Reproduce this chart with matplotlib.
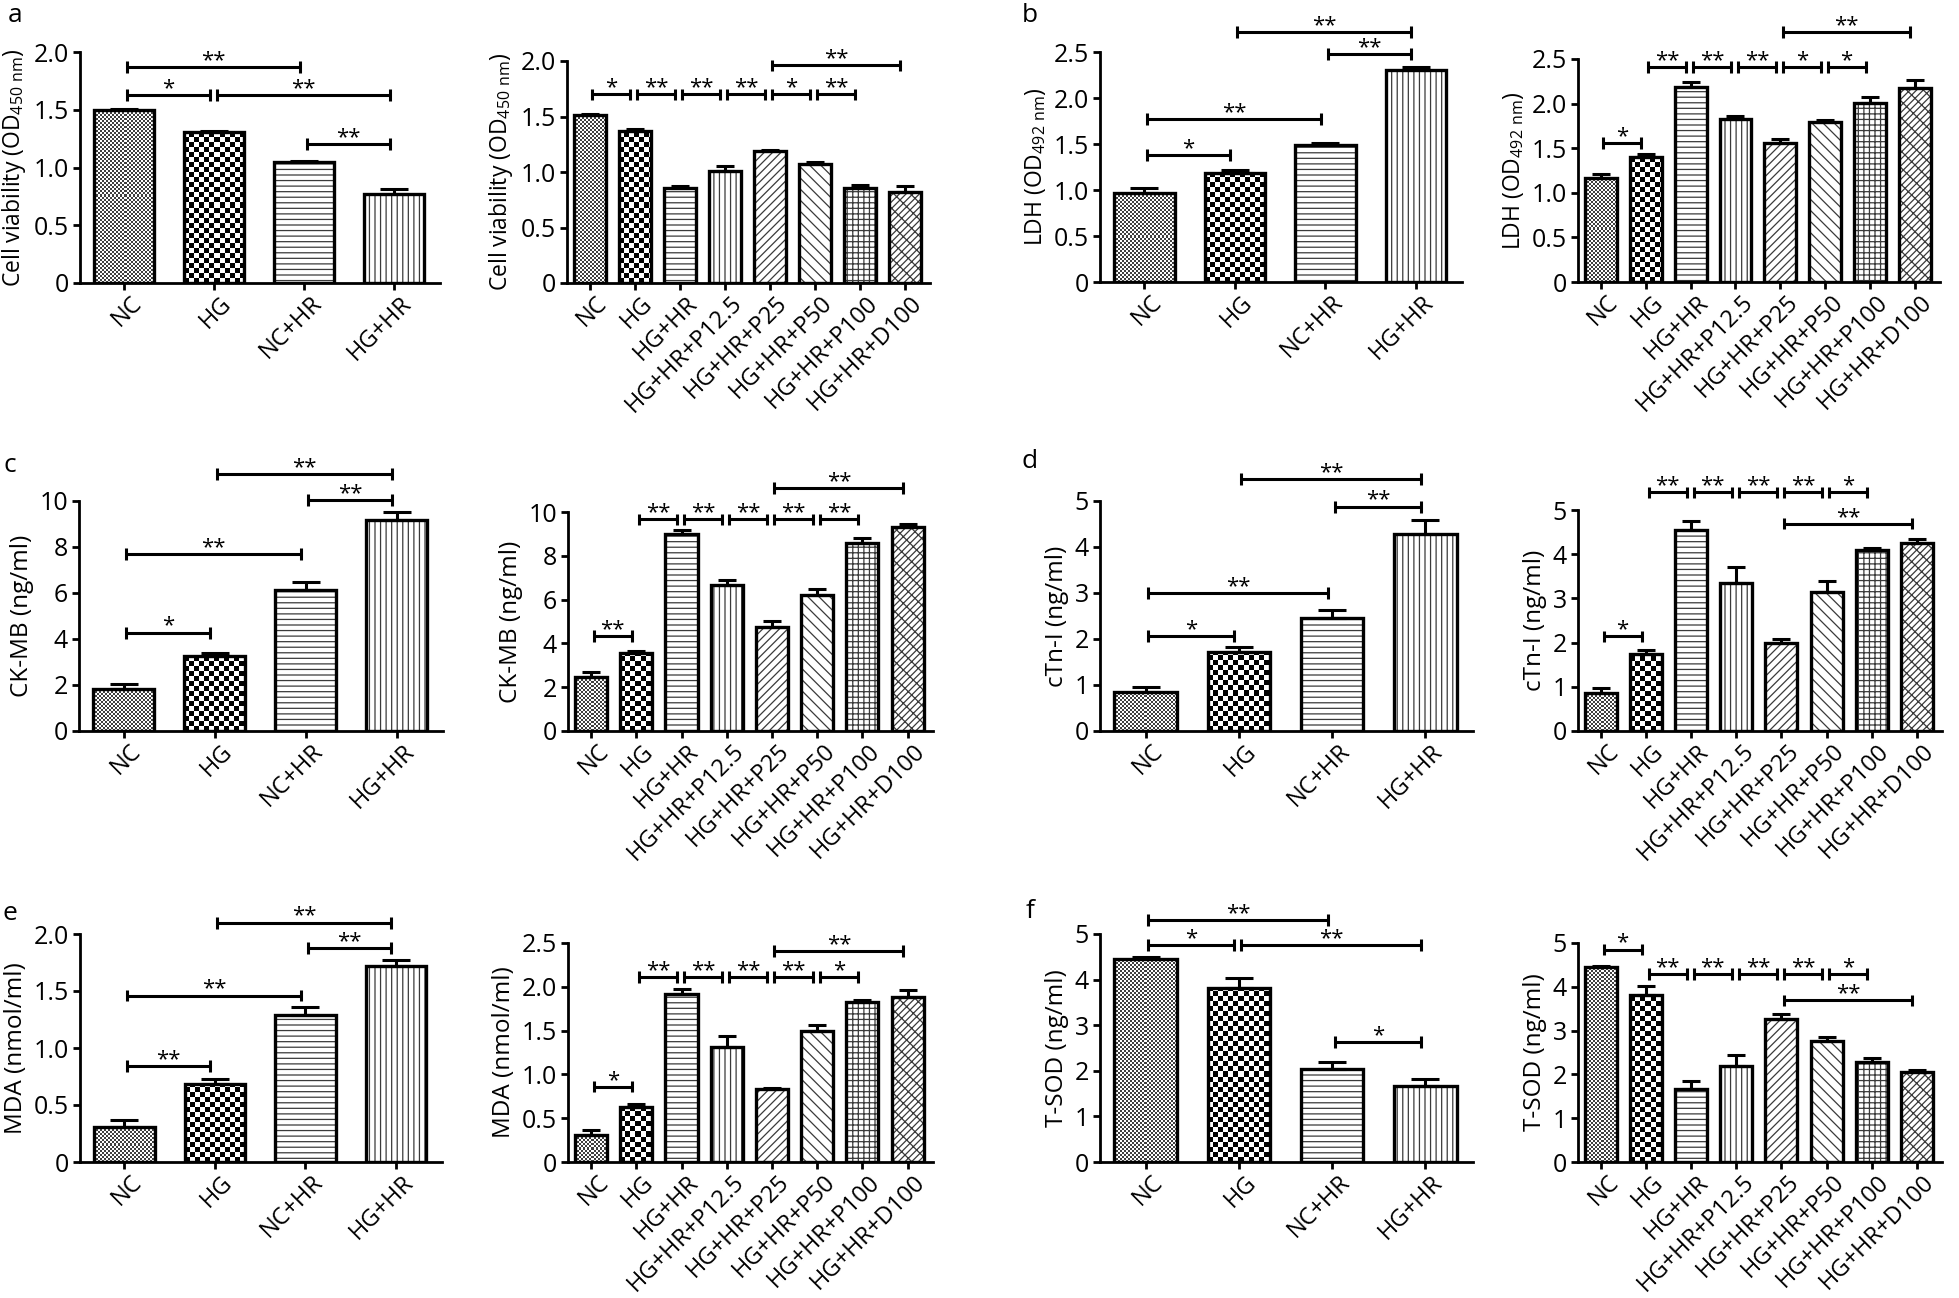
import numpy as np
import matplotlib
matplotlib.use('Agg')
import matplotlib.pyplot as plt
import matplotlib.transforms as mtransforms

plt.rcParams['font.family'] = ['Open Sans', 'DejaVu Sans']
plt.rcParams['hatch.linewidth'] = 0.9

# ---------------- data ----------------
groups4 = ['NC', 'HG', 'NC+HR', 'HG+HR']
groups8 = ['NC', 'HG', 'HG+HR', 'HG+HR+P12.5', 'HG+HR+P25',
           'HG+HR+P50', 'HG+HR+P100', 'HG+HR+D100']

via4 = [1.50, 1.31, 1.05, 0.77]
via4_err = [0.01, 0.01, 0.01, 0.04]
via4_sig = [(0, 2, 1.87, '**'), (0, 1, 1.63, '*'), (1, 3, 1.63, '**'), (2, 3, 1.20, '**')]
via8 = [1.51, 1.37, 0.86, 1.01, 1.19, 1.07, 0.86, 0.82]
via8_err = [0.01, 0.02, 0.01, 0.04, 0.01, 0.02, 0.02, 0.05]
via8_sig = [(0, 1, 1.70, '*'), (1, 2, 1.70, '**'), (2, 3, 1.70, '**'), (3, 4, 1.70, '**'),
            (4, 5, 1.70, '*'), (5, 6, 1.70, '**'), (4, 7, 1.96, '**')]

ldh4 = [0.97, 1.18, 1.49, 2.30]
ldh4_err = [0.05, 0.04, 0.02, 0.04]
ldh4_sig = [(0, 1, 1.38, '*'), (0, 2, 1.77, '**'), (2, 3, 2.48, '**'), (1, 3, 2.72, '**')]
ldh8 = [1.17, 1.40, 2.19, 1.83, 1.56, 1.79, 2.01, 2.18]
ldh8_err = [0.04, 0.03, 0.05, 0.03, 0.04, 0.03, 0.06, 0.08]
ldh8_sig = [(0, 1, 1.56, '*'), (1, 2, 2.41, '**'), (2, 3, 2.41, '**'), (3, 4, 2.41, '**'),
            (4, 5, 2.41, '*'), (5, 6, 2.41, '*'), (4, 7, 2.80, '**')]

ckmb4 = [1.81, 3.26, 6.13, 9.17]
ckmb4_err = [0.22, 0.15, 0.33, 0.37]
ckmb4_sig = [(0, 1, 4.28, '*'), (0, 2, 7.68, '**'), (2, 3, 10.04, '**'), (1, 3, 11.16, '**')]
ckmb8 = [2.45, 3.54, 8.98, 6.66, 4.73, 6.20, 8.59, 9.32]
ckmb8_err = [0.26, 0.12, 0.18, 0.22, 0.29, 0.27, 0.22, 0.12]
ckmb8_sig = [(0, 1, 4.33, '**'), (1, 2, 9.67, '**'), (2, 3, 9.67, '**'), (3, 4, 9.67, '**'),
             (4, 5, 9.67, '**'), (5, 6, 9.67, '**'), (4, 7, 11.09, '**')]

ctn4 = [0.84, 1.72, 2.46, 4.29]
ctn4_err = [0.11, 0.11, 0.16, 0.30]
ctn4_sig = [(0, 1, 2.07, '*'), (0, 2, 2.99, '**'), (2, 3, 4.88, '**'), (1, 3, 5.48, '**')]
ctn8 = [0.85, 1.74, 4.55, 3.34, 1.99, 3.15, 4.09, 4.26]
ctn8_err = [0.12, 0.10, 0.20, 0.37, 0.09, 0.25, 0.06, 0.09]
ctn8_sig = [(0, 1, 2.14, '*'), (1, 2, 5.40, '**'), (2, 3, 5.40, '**'), (3, 4, 5.40, '**'),
            (4, 5, 5.40, '**'), (5, 6, 5.40, '*'), (4, 7, 4.69, '**')]

mda4 = [0.31, 0.68, 1.29, 1.72]
mda4_err = [0.06, 0.05, 0.07, 0.05]
mda4_sig = [(0, 1, 0.84, '**'), (0, 2, 1.46, '**'), (2, 3, 1.88, '**'), (1, 3, 2.10, '**')]
mda8 = [0.31, 0.63, 1.92, 1.31, 0.83, 1.50, 1.83, 1.88]
mda8_err = [0.06, 0.03, 0.06, 0.13, 0.02, 0.06, 0.02, 0.08]
mda8_sig = [(0, 1, 0.86, '*'), (1, 2, 2.11, '**'), (2, 3, 2.11, '**'), (3, 4, 2.11, '**'),
            (4, 5, 2.11, '**'), (5, 6, 2.11, '*'), (4, 7, 2.41, '**')]

sod4 = [4.45, 3.82, 2.03, 1.66]
sod4_err = [0.05, 0.21, 0.17, 0.17]
sod4_sig = [(0, 2, 5.30, '**'), (0, 1, 4.76, '*'), (1, 3, 4.76, '**'), (2, 3, 2.63, '*')]
sod8 = [4.45, 3.82, 1.66, 2.19, 3.27, 2.77, 2.28, 2.06]
sod8_err = [0.03, 0.19, 0.18, 0.26, 0.12, 0.08, 0.10, 0.05]
sod8_sig = [(0, 1, 4.85, '*'), (1, 2, 4.29, '**'), (2, 3, 4.29, '**'), (3, 4, 4.29, '**'),
            (4, 5, 4.29, '**'), (5, 6, 4.29, '*'), (4, 7, 3.69, '**')]

od450 = 'Cell viability (OD$_{\\mathregular{450\\ nm}}$)'
od492 = 'LDH (OD$_{\\mathregular{492\\ nm}}$)'

pat4 = ['fine', 'checker', '---', '|||']
pat8 = ['fine', 'checker', '---', '|||', '////', '\\\\\\', '+++', '/////\\\\']

W, H = 1959, 1298
fig = plt.figure(figsize=(W / 100, H / 100), dpi=100)


def make_axes(x0, x1, ytop, yzero):
    return fig.add_axes([x0 / W, 1 - yzero / H, (x1 - x0) / W, (yzero - ytop) / H])


def checker(ax, xc, h, w, cell, dark):
    pos = ax.get_position()
    xr = ax.get_xlim()
    yr = ax.get_ylim()
    nx = max(1, int(round(w / (xr[1] - xr[0]) * pos.width * W)))
    ny = max(1, int(round(h / (yr[1] - yr[0]) * pos.height * H)))
    ii, jj = np.indices((ny, nx))
    img = ((ii // cell + jj // cell) % 2).astype(float)
    ax.imshow(img, cmap='gray', vmin=0, vmax=1, extent=(xc - w / 2, xc + w / 2, 0, h),
              origin='lower', interpolation='nearest', aspect='auto', zorder=1,
              alpha=1.0 if dark else 0.75)


def panel(ax, labels, vals, errs, sigs, ymax, step, ylabel, ylabsize, fmt):
    n = len(vals)
    x = np.arange(n)
    if n == 4:
        width, xlim, cap, pats = 0.67, (-0.49, 3.51), 10, pat4
    else:
        width, xlim, cap, pats = 0.71, (-0.51, 7.56), 6.5, pat8
    ax.set_xlim(*xlim)
    ax.set_ylim(0, ymax)
    for i in range(n):
        p = pats[i]
        if p == 'fine':
            checker(ax, x[i], vals[i], width, 2, False)
        elif p == 'checker':
            checker(ax, x[i], vals[i], width, 5, True)
        else:
            ax.bar(x[i], vals[i], width, color='white', edgecolor='#3a3a3a',
                   linewidth=0, hatch=p, zorder=1)
    ax.bar(x, vals, width, fill=False, edgecolor='black', linewidth=2.4, zorder=3)
    ax.errorbar(x, vals, yerr=[np.zeros(n), errs], fmt='none', ecolor='black',
                elinewidth=2.2, capsize=cap, capthick=2.2, zorder=4)
    ax.set_xlim(*xlim)
    ax.set_ylim(0, ymax)

    # pixel size of one category unit, for small gaps between adjacent brackets
    upx = ax.get_position().width * W / (xlim[1] - xlim[0])
    c = 0.026 * ymax
    for i, j, y, s in sigs:
        x1, x2 = i + 2.5 / upx, j - 4.5 / upx
        ax.plot([x1, x2], [y, y], color='black', lw=2.2, clip_on=False,
                solid_capstyle='butt', zorder=5)
        for xx in (x1, x2):
            ax.plot([xx, xx], [y - c, y + c], color='black', lw=2.2, clip_on=False,
                    solid_capstyle='butt', zorder=5)
        ax.text((x1 + x2) / 2, y + 0.004 * ymax, s, ha='center', va='baseline',
                fontsize=16, clip_on=False)

    for sp in ('top', 'right'):
        ax.spines[sp].set_visible(False)
    for sp in ('left', 'bottom'):
        ax.spines[sp].set_linewidth(2.0)
    ticks = np.arange(0, ymax + 1e-9, step)
    ax.set_yticks(ticks)
    ax.set_yticklabels(['0'] + [fmt.format(t) for t in ticks[1:]])
    ax.tick_params(axis='y', direction='out', length=5, width=2, labelsize=18, pad=3)
    ax.tick_params(axis='x', direction='out', length=5, width=2, labelsize=17, pad=1)
    ax.set_xticks(x)
    ax.set_xticklabels(labels, rotation=45, ha='right', va='top',
                       rotation_mode='anchor', fontsize=17)
    off = mtransforms.ScaledTranslation(4 / 72, 0, fig.dpi_scale_trans)
    for lab in ax.get_xticklabels():
        lab.set_transform(lab.get_transform() + off)
    ax.set_ylabel(ylabel, fontsize=ylabsize, labelpad=4)


# row a / b
panel(make_axes(80, 440, 52, 283), groups4, via4, via4_err, via4_sig, 2.0, 0.5, od450, 16.5, '{:.1f}')
panel(make_axes(567, 930, 61, 283), groups8, via8, via8_err, via8_sig, 2.0, 0.5, od450, 16.5, '{:.1f}')
panel(make_axes(1100, 1462, 52, 282), groups4, ldh4, ldh4_err, ldh4_sig, 2.5, 0.5, od492, 16.5, '{:.1f}')
panel(make_axes(1578, 1940, 59, 282), groups8, ldh8, ldh8_err, ldh8_sig, 2.5, 0.5, od492, 16.5, '{:.1f}')
# row c / d
panel(make_axes(79, 443, 501, 731), groups4, ckmb4, ckmb4_err, ckmb4_sig, 10, 2, 'CK-MB (ng/ml)', 17.5, '{:.0f}')
panel(make_axes(568, 933, 512, 731), groups8, ckmb8, ckmb8_err, ckmb8_sig, 10, 2, 'CK-MB (ng/ml)', 17.5, '{:.0f}')
panel(make_axes(1100, 1473, 501, 731), groups4, ctn4, ctn4_err, ctn4_sig, 5, 1, 'cTn-I (ng/ml)', 17.5, '{:.0f}')
panel(make_axes(1578, 1942, 510, 731), groups8, ctn8, ctn8_err, ctn8_sig, 5, 1, 'cTn-I (ng/ml)', 17.5, '{:.0f}')
# row e / f
panel(make_axes(80, 442, 934, 1162), groups4, mda4, mda4_err, mda4_sig, 2.0, 0.5, 'MDA (nmol/ml)', 17.5, '{:.1f}')
panel(make_axes(568, 933, 943, 1162), groups8, mda8, mda8_err, mda8_sig, 2.5, 0.5, 'MDA (nmol/ml)', 17.5, '{:.1f}')
panel(make_axes(1100, 1473, 934, 1162), groups4, sod4, sod4_err, sod4_sig, 5, 1, 'T-SOD (ng/ml)', 17.5, '{:.0f}')
panel(make_axes(1578, 1942, 943, 1162), groups8, sod8, sod8_err, sod8_sig, 5, 1, 'T-SOD (ng/ml)', 17.5, '{:.0f}')

for lab, px, py in [('a', 15, 15), ('b', 1030, 15), ('c', 10, 465),
                    ('d', 1030, 462), ('e', 10, 913), ('f', 1030, 912)]:
    fig.text(px / W, 1 - py / H, lab, fontsize=19, ha='center', va='center')

fig.savefig('out.png', dpi=100)
